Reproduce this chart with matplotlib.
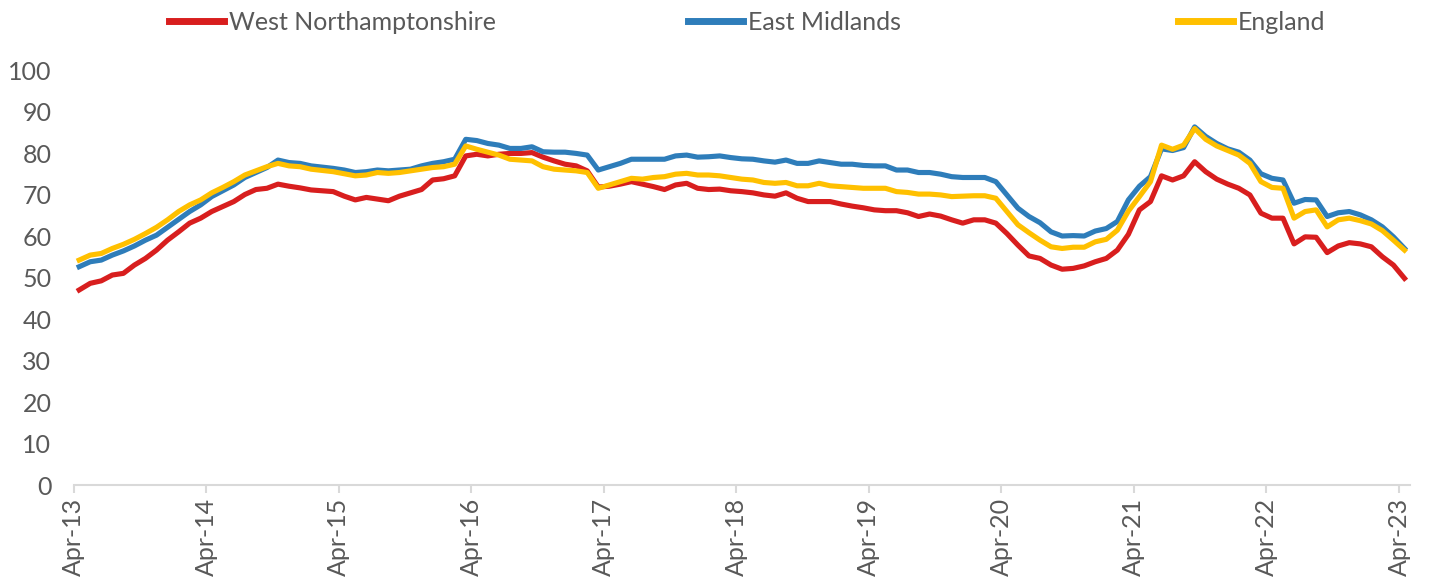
import numpy as np
import matplotlib
matplotlib.use('Agg')
import matplotlib.pyplot as plt
from matplotlib.lines import Line2D

plt.rcParams['font.family'] = 'Lato'

# monthly values, Apr-13 .. Apr-23 (121 months)
west_northants = [
    47.0, 48.6, 49.2, 50.6, 51.0, 53.0, 54.6, 56.6, 59.0, 61.0, 63.1, 64.3,
    65.9, 67.1, 68.3, 70.0, 71.2, 71.5, 72.5, 72.0, 71.6, 71.1, 70.9, 70.7,
    69.6, 68.7, 69.3, 68.9, 68.5, 69.6, 70.4, 71.2, 73.5, 73.8, 74.5, 79.3,
    79.7, 79.3, 79.7, 79.9, 79.9, 80.1, 79.0, 78.1, 77.3, 76.9, 75.7, 71.8,
    72.0, 72.5, 73.1, 72.5, 71.9, 71.2, 72.3, 72.7, 71.5, 71.2, 71.3, 70.9,
    70.7, 70.4, 69.9, 69.6, 70.4, 69.1, 68.3, 68.3, 68.3, 67.7, 67.2, 66.8,
    66.3, 66.1, 66.1, 65.6, 64.7, 65.3, 64.8, 63.9, 63.1, 63.9, 63.9, 63.1,
    60.6, 57.8, 55.2, 54.6, 53.0, 52.0, 52.2, 52.8, 53.8, 54.6, 56.6, 60.4,
    66.3, 68.3, 74.5, 73.5, 74.5, 77.9, 75.5, 73.7, 72.5, 71.5, 69.9, 65.5,
    64.3, 64.3, 58.1, 59.8, 59.7, 56.0, 57.6, 58.4, 58.1, 57.4, 55.0, 53.0,
    49.8]
east_midlands = [
    52.6, 53.8, 54.2, 55.4, 56.4, 57.6, 59.0, 60.2, 62.1, 64.0, 65.9, 67.5,
    69.5, 70.9, 72.3, 74.1, 75.3, 76.5, 78.3, 77.7, 77.5, 76.9, 76.6, 76.3,
    75.9, 75.3, 75.5, 75.9, 75.7, 75.9, 76.1, 76.9, 77.5, 77.9, 78.5, 83.3,
    83.0, 82.3, 81.9, 81.1, 81.1, 81.5, 80.3, 80.2, 80.2, 79.9, 79.5, 75.9,
    76.7, 77.5, 78.5, 78.5, 78.5, 78.5, 79.3, 79.5, 79.0, 79.1, 79.3, 78.9,
    78.6, 78.5, 78.1, 77.8, 78.3, 77.5, 77.5, 78.1, 77.7, 77.3, 77.3, 77.0,
    76.9, 76.9, 75.9, 75.9, 75.3, 75.3, 74.9, 74.3, 74.1, 74.1, 74.1, 73.1,
    69.9, 66.7, 64.7, 63.2, 61.0, 60.0, 60.1, 60.0, 61.2, 61.8, 63.5, 68.7,
    72.0, 74.3, 81.0, 80.6, 81.3, 86.3, 84.0, 82.3, 81.0, 80.2, 78.3, 75.0,
    73.9, 73.5, 67.9, 68.8, 68.7, 64.7, 65.6, 65.9, 65.1, 63.9, 62.2, 59.8,
    57.0]
england = [
    54.2, 55.4, 55.8, 57.0, 58.0, 59.2, 60.6, 62.1, 63.9, 65.9, 67.5, 68.7,
    70.4, 71.7, 73.1, 74.7, 75.7, 76.7, 77.5, 76.9, 76.7, 76.1, 75.8, 75.5,
    75.0, 74.5, 74.7, 75.3, 75.1, 75.3, 75.7, 76.1, 76.5, 76.7, 77.3, 81.7,
    80.9, 80.2, 79.5, 78.5, 78.3, 78.1, 76.7, 76.1, 75.9, 75.7, 75.3, 71.5,
    72.3, 73.1, 73.9, 73.7, 74.1, 74.3, 74.9, 75.1, 74.7, 74.7, 74.5, 74.1,
    73.7, 73.5, 72.9, 72.7, 72.9, 72.1, 72.1, 72.7, 72.1, 71.9, 71.7, 71.5,
    71.5, 71.5, 70.7, 70.5, 70.1, 70.1, 69.9, 69.5, 69.6, 69.7, 69.7, 69.1,
    65.9, 62.7, 60.8, 59.0, 57.4, 57.0, 57.3, 57.3, 58.6, 59.2, 61.4, 66.0,
    69.5, 73.1, 81.9, 80.9, 81.9, 85.9, 83.3, 81.7, 80.6, 79.5, 77.5, 73.1,
    71.7, 71.5, 64.3, 65.9, 66.3, 62.2, 63.9, 64.3, 63.7, 62.9, 61.3, 59.0,
    56.6]
tick_labels = ['Apr-13', 'Apr-14', 'Apr-15', 'Apr-16', 'Apr-17', 'Apr-18',
               'Apr-19', 'Apr-20', 'Apr-21', 'Apr-22', 'Apr-23']
series_names = ['West Northamptonshire', 'East Midlands', 'England']
colours = ['#D81E1E', '#2E7DBA', '#FFC000']

months = np.arange(len(england))

fig = plt.figure(figsize=(14.36, 5.79), dpi=100)
ax = fig.add_axes([0.0513, 0.1623, 0.9306, 0.7168])

for vals, name, c in zip([west_northants, east_midlands, england], series_names, colours):
    ax.plot(months, vals, color=c, lw=3.7, label=name, solid_joinstyle='round')

ax.set_ylim(0, 100)
ax.set_yticks(range(0, 101, 10))
ax.set_xlim(-0.5, 120.5)
ax.set_xticks(np.arange(len(tick_labels)) * 12 - 0.5)
ax.set_xticklabels(tick_labels, rotation=90)

for s in ['top', 'right', 'left']:
    ax.spines[s].set_visible(False)
ax.spines['bottom'].set_color('#D9D9D9')
ax.spines['bottom'].set_linewidth(1.5)
ax.tick_params(axis='y', length=0, pad=16, labelsize=18, labelcolor='#595959')
ax.tick_params(axis='x', length=6, width=1.5, color='#D9D9D9', pad=3,
               labelsize=18, labelcolor='#595959')

# legend entries spread across the top like the original
starts = [0.118, 0.479, 0.820]
for x0, name, c in zip(starts, series_names, colours):
    h = Line2D([], [], color=c, lw=5)
    fig.legend([h], [name], loc='center left', bbox_to_anchor=(x0, 0.962),
               frameon=False, fontsize=18, handlelength=2.2, handletextpad=0.2,
               borderaxespad=0, borderpad=0, labelcolor='#595959')

fig.savefig('out.png', dpi=100)
